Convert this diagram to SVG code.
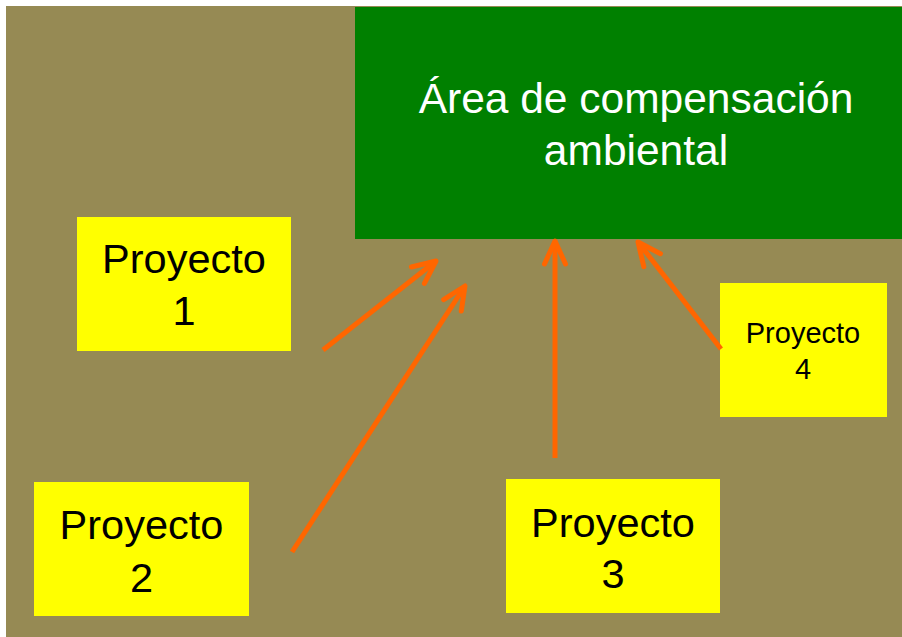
<svg xmlns="http://www.w3.org/2000/svg" width="902" height="637" viewBox="0 0 902 637">
<defs>
<style>
.proj rect{fill:#ffff00;}
.proj text{font-family:"Liberation Sans",Arial,sans-serif;fill:#000;text-anchor:middle;}
.big{font-size:41.5px;}
.small{font-size:29px;}
.conn line{stroke:#ff6600;stroke-width:5;stroke-linecap:butt;marker-end:url(#ah);}
</style>
<marker id="ah" markerUnits="userSpaceOnUse" viewBox="-30 -15 34 30" refX="0" refY="0" markerWidth="34" markerHeight="30" orient="auto" overflow="visible">
<path d="M-23,-10.5 L0,0 L-23,10.5" fill="none" stroke="#ff6600" stroke-width="5" stroke-linecap="round" stroke-linejoin="round"/>
</marker>
</defs>
<rect x="0" y="0" width="902" height="637" fill="#ffffff"/>
<rect x="6" y="6" width="896" height="631" fill="#968a54"/>
<g id="area">
<rect x="355" y="7" width="547" height="232" fill="#008000"/>
<text font-family="'Liberation Sans',Arial,sans-serif" font-size="42.5" fill="#ffffff" text-anchor="middle"><tspan x="636" y="113">Área de compensación</tspan><tspan x="636" y="165">ambiental</tspan></text>
</g>
<g id="proyecto1" class="proj">
<rect x="77" y="217" width="214" height="134"/>
<text class="big"><tspan x="184" y="273">Proyecto</tspan><tspan x="184" y="325">1</tspan></text>
</g>
<g id="proyecto2" class="proj">
<rect x="34" y="482" width="215" height="134"/>
<text class="big"><tspan x="141.5" y="539">Proyecto</tspan><tspan x="141.5" y="592">2</tspan></text>
</g>
<g id="proyecto3" class="proj">
<rect x="506" y="479" width="214" height="134"/>
<text class="big"><tspan x="613" y="537">Proyecto</tspan><tspan x="613" y="588">3</tspan></text>
</g>
<g id="proyecto4" class="proj">
<rect x="720" y="283" width="167" height="134"/>
<text class="small"><tspan x="803" y="343">Proyecto</tspan><tspan x="803" y="379">4</tspan></text>
</g>
<g id="connectors" class="conn">
<line x1="323" y1="350" x2="436" y2="261"/>
<line x1="292" y1="552" x2="465" y2="286"/>
<line x1="555" y1="458" x2="555" y2="241"/>
<line x1="721" y1="349" x2="638" y2="242"/>
</g>
</svg>
